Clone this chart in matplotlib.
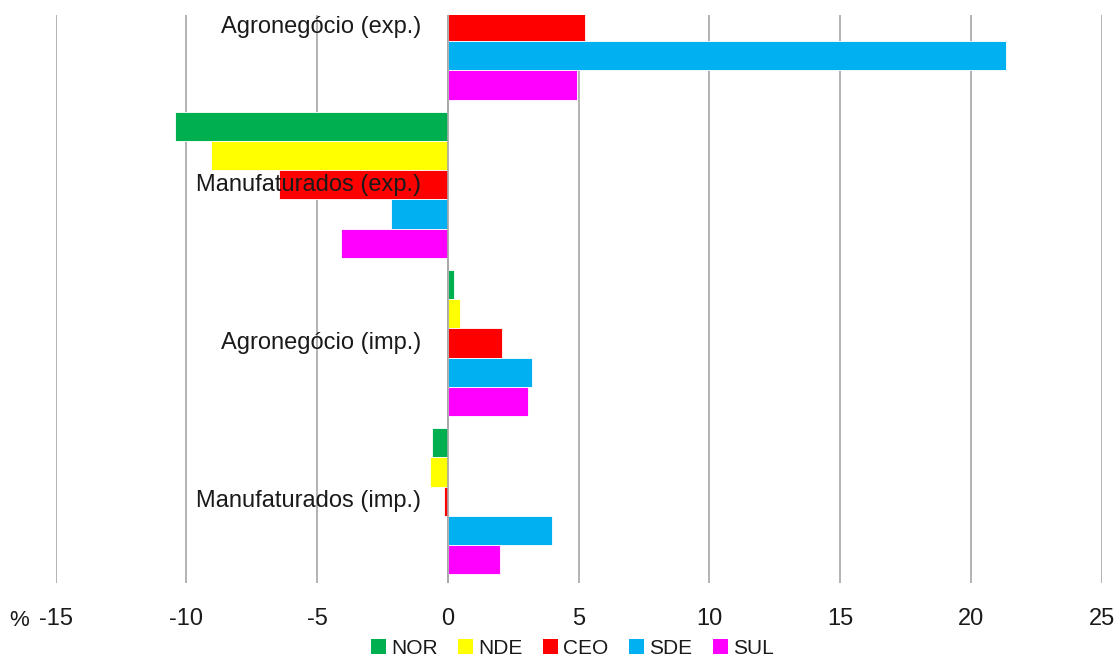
import numpy as np
import matplotlib.pyplot as plt
from matplotlib.patches import Patch

# Dados
categorias = ['Agronegócio (exp.)', 'Manufaturados (exp.)',
              'Agronegócio (imp.)', 'Manufaturados (imp.)']
regioes = ['NOR', 'NDE', 'CEO', 'SDE', 'SUL']
cores = ['#00b050', '#ffff00', '#ff0000', '#00b0f0', '#ff00ff']

nor = [0.0, -10.42, 0.22, -0.60]
nde = [0.0, -9.04, 0.47, -0.70]
ceo = [5.25, -6.47, 2.08, -0.14]
sde = [21.34, -2.18, 3.22, 4.00]
sul = [4.94, -4.10, 3.07, 1.99]
series = [nor, nde, ceo, sde, sul]

ticks = np.arange(-15, 26, 5)

plt.rcParams['font.family'] = ['Liberation Sans', 'DejaVu Sans']
plt.rcParams['axes.unicode_minus'] = False

fig = plt.figure(figsize=(11.18, 6.62), dpi=100)
ax = fig.add_axes([0.0497, 0.1198, 0.9356, 0.8575])

y = np.arange(len(categorias))
w = 0.1849
for j, vals in enumerate(series):
    ax.barh(y + (j - 2) * w, vals, height=w, color=cores[j],
            edgecolor='white', linewidth=0.6, zorder=2)

ax.set_xlim(-15, 25)
ax.set_ylim(3.515, -0.0726)
ax.set_xticks(ticks)
ax.set_xticklabels([str(t) for t in ticks])
ax.set_yticks([])
ax.grid(axis='x', color='#a6a6a6', linewidth=1.2, zorder=0)
ax.axvline(0, color='#a6a6a6', linewidth=1.2, zorder=3)
for s in ax.spines.values():
    s.set_visible(False)
ax.tick_params(axis='x', length=0, pad=18, labelsize=17, colors='#1a1a1a')

# rótulos das categorias junto ao eixo
for i, c in enumerate(categorias):
    ax.text(-1.03, i, c, ha='right', va='center', fontsize=17,
            color='#1a1a1a', zorder=5)

fig.text(0.017, 0.063, '%', fontsize=16, color='#1a1a1a', ha='center', va='center')

handles = [Patch(facecolor=cores[j], edgecolor='none') for j in range(5)]
fig.legend(handles, regioes, loc='center', bbox_to_anchor=(0.512, 0.021),
           ncol=5, frameon=False, fontsize=15, handlelength=0.7, handleheight=0.7,
           handletextpad=0.25, columnspacing=1.0, labelcolor='#1a1a1a',
           borderpad=0)

fig.savefig('out.png', dpi=100)
